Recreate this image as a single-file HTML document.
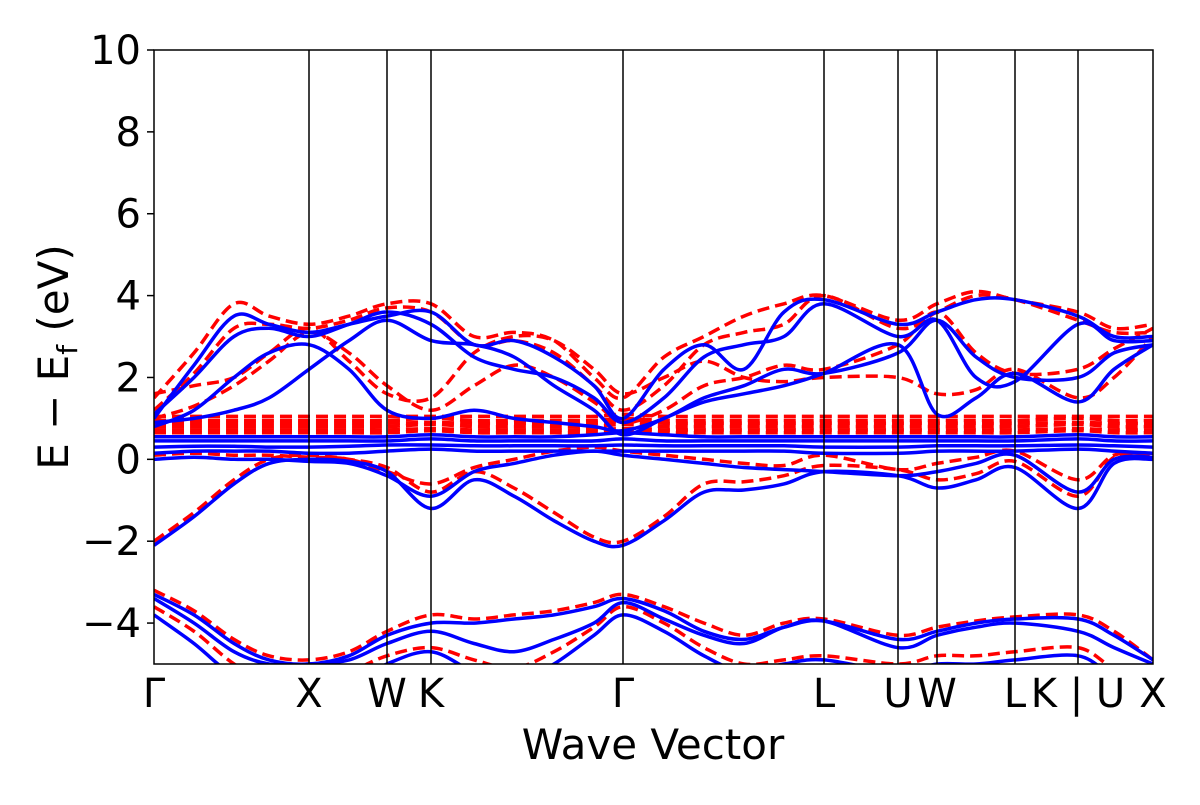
<!DOCTYPE html>
<html><head><meta charset="utf-8"><style>
body{margin:0;background:#fff;}
svg text{font-family:"DejaVu Sans","Liberation Sans",sans-serif;fill:#000;}
</style></head><body>
<svg id="chart" width="1200" height="800" xmlns="http://www.w3.org/2000/svg">
<defs><clipPath id="clip"><rect x="154" y="50" width="999" height="614"/></clipPath></defs>
<g id="bands" clip-path="url(#clip)"></g>
<g id="axes"></g>
<text x="653" y="759" font-size="42" text-anchor="middle">Wave Vector</text>
<text transform="translate(68,357) rotate(-90)" font-size="42" text-anchor="middle">E − E<tspan font-size="28" dy="9">f</tspan><tspan dy="-9"> (eV)</tspan></text>
</svg>
<script>
const kpts=[0,40,80,115,155,195,233,277,320,360,400,440,469,510,550,590,630,670,744,783,822,861,924,960,999];
const kLabelPos=[0,155,233,277,469,670,744,783,861,924,999];
const kLabels=["Γ","X","W","K","Γ","L","U","W","L","K | U","X"];
const yTicks=[-4,-2,0,2,4,6,8,10];
const blueBands=[
[-3.3,-3.8,-4.5,-4.9,-5.0,-4.8,-4.3,-4.0,-4.0,-3.9,-3.8,-3.6,-3.4,-3.7,-4.2,-4.4,-4.1,-3.95,-4.4,-4.2,-4.0,-3.9,-3.9,-4.3,-4.9],
[-3.4,-4.0,-4.7,-5.0,-5.0,-4.9,-4.5,-4.2,-4.5,-4.7,-4.4,-4.0,-3.5,-3.9,-4.3,-4.5,-4.1,-3.95,-4.6,-4.3,-4.1,-4.0,-4.2,-4.6,-5.0],
[-3.8,-4.5,-5.3,-5.6,-5.8,-5.5,-5.0,-4.7,-5.2,-5.5,-5.0,-4.3,-3.8,-4.2,-4.8,-5.2,-5.0,-4.9,-5.2,-5.0,-5.0,-4.9,-4.8,-5.3,-5.5],
[-2.1,-1.4,-0.6,-0.1,0.0,-0.05,-0.3,-1.2,-0.5,-0.9,-1.5,-2.0,-2.1,-1.5,-0.8,-0.75,-0.6,-0.3,-0.4,-0.7,-0.5,-0.2,-1.2,-0.1,0.0],
[0.0,0.05,0.0,0.0,-0.05,-0.1,-0.4,-0.9,-0.3,-0.1,0.1,0.2,0.1,0.0,-0.1,-0.2,-0.25,-0.3,-0.4,-0.3,-0.1,0.1,-0.8,0.0,0.05],
[0.15,0.2,0.2,0.2,0.15,0.15,0.2,0.25,0.2,0.2,0.2,0.2,0.2,0.2,0.2,0.2,0.2,0.15,0.15,0.2,0.2,0.2,0.25,0.2,0.15],
[0.3,0.32,0.32,0.3,0.3,0.32,0.35,0.35,0.33,0.33,0.33,0.33,0.35,0.33,0.33,0.33,0.33,0.3,0.3,0.33,0.33,0.33,0.35,0.33,0.3],
[0.45,0.45,0.45,0.45,0.45,0.45,0.45,0.5,0.45,0.45,0.45,0.45,0.5,0.45,0.45,0.45,0.45,0.45,0.45,0.45,0.45,0.45,0.5,0.45,0.45],
[0.55,0.55,0.55,0.55,0.55,0.55,0.55,0.6,0.55,0.55,0.55,0.6,0.65,0.6,0.55,0.55,0.55,0.55,0.55,0.55,0.55,0.55,0.6,0.55,0.55],
[1.0,2.3,3.5,3.3,3.1,3.3,3.5,3.6,2.8,2.9,2.5,1.8,1.0,2.2,2.8,2.2,3.6,3.9,3.3,3.6,3.9,3.9,3.5,3.0,3.0],
[1.1,2.0,3.0,3.2,3.0,3.3,3.6,3.3,2.5,2.2,2.0,1.5,0.9,1.5,2.5,2.8,3.0,3.8,3.0,3.4,2.0,1.9,3.3,2.9,2.9],
[0.8,1.2,2.0,2.6,2.8,2.2,1.2,1.0,1.2,1.0,0.9,0.8,0.7,1.0,1.5,1.8,2.2,2.1,2.6,3.4,2.5,2.0,2.0,2.6,2.8],
[0.9,1.0,1.2,1.5,2.2,2.9,3.4,2.9,2.8,2.5,1.8,1.2,0.6,1.0,1.4,1.6,1.8,2.1,2.8,1.1,1.5,2.1,1.4,2.2,2.8]
];
const redBands=[
[-3.2,-3.7,-4.4,-4.8,-4.9,-4.7,-4.2,-3.8,-3.9,-3.8,-3.7,-3.5,-3.3,-3.6,-4.0,-4.3,-4.0,-3.9,-4.3,-4.1,-3.95,-3.85,-3.8,-4.2,-4.9],
[-3.6,-4.2,-5.0,-5.4,-5.5,-5.2,-4.8,-4.6,-4.9,-5.1,-4.7,-4.1,-3.6,-4.0,-4.6,-5.0,-4.9,-4.8,-5.0,-4.8,-4.8,-4.7,-4.6,-5.1,-5.3],
[-2.0,-1.3,-0.5,0.0,0.1,0.0,-0.2,-0.8,-0.3,-0.7,-1.3,-1.9,-2.0,-1.4,-0.6,-0.55,-0.4,-0.15,-0.25,-0.5,-0.35,-0.05,-0.9,0.05,0.1],
[0.1,0.15,0.1,0.1,0.05,0.0,-0.3,-0.6,-0.2,0.0,0.2,0.3,0.2,0.1,0.0,-0.1,-0.15,0.1,-0.25,-0.1,0.05,0.2,-0.5,0.1,0.15],
[0.65,0.65,0.65,0.65,0.65,0.65,0.65,0.7,0.65,0.65,0.65,0.65,0.7,0.65,0.65,0.65,0.65,0.65,0.65,0.65,0.65,0.65,0.7,0.65,0.65],
[0.72,0.72,0.72,0.72,0.72,0.72,0.72,0.75,0.72,0.72,0.72,0.72,0.75,0.72,0.72,0.72,0.72,0.72,0.72,0.72,0.72,0.72,0.75,0.72,0.72],
[0.8,0.8,0.8,0.8,0.8,0.8,0.8,0.85,0.8,0.8,0.8,0.8,0.85,0.8,0.8,0.8,0.8,0.8,0.8,0.8,0.8,0.8,0.85,0.8,0.8],
[0.88,0.88,0.88,0.88,0.88,0.88,0.88,0.9,0.88,0.88,0.88,0.88,0.92,0.88,0.88,0.88,0.88,0.88,0.88,0.88,0.88,0.88,0.9,0.88,0.88],
[0.95,0.95,0.95,0.95,0.95,0.95,0.95,1.0,0.95,0.95,0.95,0.95,1.0,0.95,0.95,0.95,0.95,0.95,0.95,0.95,0.95,0.95,1.0,0.95,0.95],
[1.05,1.05,1.05,1.05,1.05,1.05,1.05,1.05,1.05,1.05,1.05,1.05,1.1,1.05,1.05,1.05,1.05,1.05,1.05,1.05,1.05,1.05,1.05,1.05,1.05],
[1.5,2.6,3.8,3.5,3.3,3.5,3.8,3.8,3.0,3.1,2.9,2.0,1.5,2.5,3.0,3.5,3.8,4.0,3.4,3.8,4.1,3.9,3.6,3.2,3.3],
[1.2,2.1,3.2,3.3,3.2,3.4,3.7,3.6,2.8,2.9,2.6,1.8,1.2,1.8,2.8,3.1,3.3,4.0,3.2,3.6,4.0,3.9,3.4,3.1,3.1],
[1.6,1.8,2.0,2.6,3.2,2.4,1.6,1.5,2.6,3.0,2.9,2.2,1.6,2.0,2.4,2.0,1.9,2.0,2.0,1.6,1.7,2.2,1.5,2.0,3.0],
[1.0,1.3,1.8,2.4,3.1,2.6,1.8,1.2,1.8,2.3,2.0,1.4,0.9,1.2,1.8,2.0,2.3,2.2,2.8,3.6,2.6,2.1,2.2,2.7,3.2]
];
const NS="http://www.w3.org/2000/svg";
const X0=154,X1=1153,Y0=50,Y1=664,YMIN=-5,YMAX=10;
function xs(k){return X0+(X1-X0)*k/999;}
function ys(e){return Y0+(YMAX-e)/(YMAX-YMIN)*(Y1-Y0);}
function pathFor(vals){
  const p=vals.map((v,i)=>[xs(kpts[i]),ys(v)]);
  let d="M"+p[0][0].toFixed(1)+","+p[0][1].toFixed(1);
  for(let i=0;i<p.length-1;i++){
    const a=p[Math.max(0,i-1)],b=p[i],c=p[i+1],e=p[Math.min(p.length-1,i+2)];
    const c1=[b[0]+(c[0]-a[0])/6,b[1]+(c[1]-a[1])/6],c2=[c[0]-(e[0]-b[0])/6,c[1]-(e[1]-b[1])/6];
    d+=`C${c1[0].toFixed(1)},${c1[1].toFixed(1)} ${c2[0].toFixed(1)},${c2[1].toFixed(1)} ${c[0].toFixed(1)},${c[1].toFixed(1)}`;
  }
  return d;
}
const bg=document.getElementById('bands');
redBands.forEach((b,i)=>{
  const el=document.createElementNS(NS,'path');
  el.setAttribute('d',pathFor(b));el.setAttribute('fill','none');el.setAttribute('stroke','#ff0000');
  el.setAttribute('stroke-width','3.5');el.setAttribute('stroke-dasharray','12,6');
  
  
  bg.appendChild(el);
});
blueBands.forEach((b,i)=>{
  const el=document.createElementNS(NS,'path');
  el.setAttribute('d',pathFor(b));el.setAttribute('fill','none');el.setAttribute('stroke','#0000ff');
  el.setAttribute('stroke-width','3.5');
  
  
  bg.appendChild(el);
});
const ax=document.getElementById('axes');
kLabelPos.forEach((k,i)=>{
  if(i>0&&i<kLabelPos.length-1){
    const l=document.createElementNS(NS,'line');
    l.setAttribute('x1',xs(k));l.setAttribute('x2',xs(k));l.setAttribute('y1',Y0);l.setAttribute('y2',Y1);
    l.setAttribute('stroke','#000');l.setAttribute('stroke-width','1.5');
    
    
    ax.appendChild(l);
  }
  const t=document.createElementNS(NS,'text');
  t.setAttribute('x',xs(k));t.setAttribute('y',707);t.setAttribute('font-size','40');t.setAttribute('text-anchor','middle');
  t.textContent=kLabels[i];
  
  
  ax.appendChild(t);
});
yTicks.forEach(v=>{
  const l=document.createElementNS(NS,'line');
  l.setAttribute('x1',X0-7);l.setAttribute('x2',X0);l.setAttribute('y1',ys(v));l.setAttribute('y2',ys(v));
  l.setAttribute('stroke','#000');l.setAttribute('stroke-width','1.5');
  
  
  ax.appendChild(l);
  const t=document.createElementNS(NS,'text');
  t.setAttribute('x',X0-13);t.setAttribute('y',ys(v)+14);t.setAttribute('font-size','40');t.setAttribute('text-anchor','end');
  t.textContent=v<0?'−'+Math.abs(v):String(v);
  
  
  ax.appendChild(t);
});
const fr=document.createElementNS(NS,'rect');
fr.setAttribute('x',X0);fr.setAttribute('y',Y0);fr.setAttribute('width',X1-X0);fr.setAttribute('height',Y1-Y0);
fr.setAttribute('fill','none');fr.setAttribute('stroke','#000');fr.setAttribute('stroke-width','1.5');


ax.appendChild(fr);
</script>
</body></html>
